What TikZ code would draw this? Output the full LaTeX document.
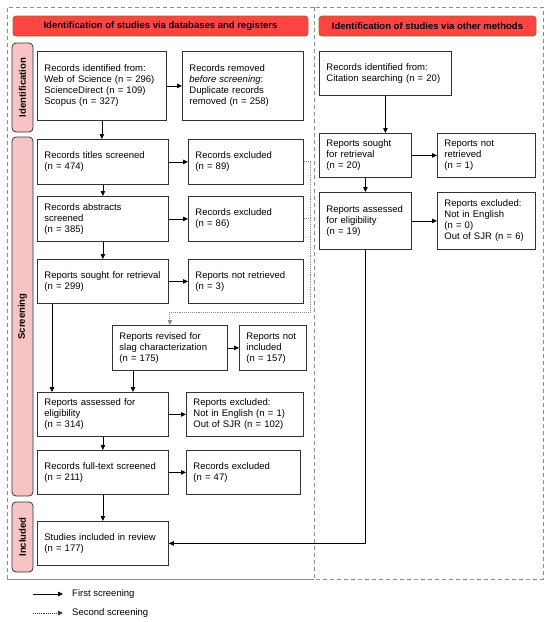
\documentclass[tikz,border=0pt]{standalone}
\usepackage{fontspec}
\setmainfont{Liberation Sans}
\usepackage{tikz}
\usetikzlibrary{arrows.meta,positioning}
\usepackage{xcolor}
\definecolor{hdred}{HTML}{FF4444}
\definecolor{hdedge}{HTML}{9A6B1C}
\definecolor{sidepink}{HTML}{F6C4C4}
\definecolor{edgec}{HTML}{333333}
\definecolor{framec}{HTML}{8C8C8C}

\newcommand{\boxfont}{\fontsize{9.5}{11}\selectfont\hyphenpenalty=10000\exhyphenpenalty=10000}

\tikzset{
  pbox/.style={draw=edgec, line width=0.8pt, fill=white, align=left, inner xsep=7pt, inner ysep=2pt,
    anchor=north west, font=\boxfont},
  header/.style={draw=hdedge, line width=0.8pt, fill=hdred, rounded corners=3pt, minimum height=20pt,
    inner sep=0pt, font=\fontsize{9.5}{11}\selectfont\bfseries},
  sidelab/.style={draw=edgec, line width=0.8pt, fill=sidepink, rounded corners=4pt, rotate=90,
    minimum height=21pt, inner sep=0pt, font=\fontsize{9.5}{11}\selectfont\bfseries},
  arr/.style={line width=0.8pt, -{Triangle[length=5pt,width=4.5pt]}},
  dotline/.style={framec, line width=0.9pt, densely dotted},
  dotarr/.style={dotline, -{Triangle[length=5pt,width=4.5pt]}},
  frame/.style={framec, line width=0.8pt, dash pattern=on 4pt off 3pt},
  legtext/.style={anchor=west, inner sep=0pt, font=\fontsize{9.5}{11}\selectfont}
}

\begin{document}
\begin{tikzpicture}[x=1pt,y=-1pt]
  \useasboundingbox (0,0) rectangle (550,622);
  % frames
  \draw[frame] (314,7) -- (7,7) -- (7,579);
  \draw[framec, line width=0.8pt] (7,579) -- (314,579);
  \draw[frame] (314,7) rectangle (543,579);
  % headers
  \node[header, minimum width=295pt] (hdL) at (160.5,26) {Identification of studies via databases and registers};
  \node[header, minimum width=217pt] (hdR) at (427.5,26) {Identification of studies via other methods};
  % phase labels
  \node[sidelab, minimum width=89pt] (sideId) at (22.5,87.5) {Identification};
  \node[sidelab, minimum width=359pt] (sideScr) at (22.5,316.5) {Screening};
  \node[sidelab, minimum width=70pt] (sideInc) at (22.5,537) {Included};
  % databases and registers
  \node[pbox, text width=115pt, minimum height=69pt] (ident) at (37,51)
    {Records identified from:\\Web of Science (n = 296)\\ScienceDirect (n = 109)\\Scopus (n = 327)};
  \node[pbox, text width=107pt, minimum height=69pt] (removed) at (182,51)
    {Records removed\\\textit{before screening}:\\Duplicate records\\removed (n = 258)};
  \node[pbox, text width=117pt, minimum height=45pt] (titles) at (37,139)
    {Records titles screened\\(n = 474)};
  \node[pbox, text width=101pt, minimum height=45pt] (exTitles) at (188,139)
    {Records excluded\\(n = 89)};
  \node[pbox, text width=117pt, minimum height=45pt] (abstracts) at (37,196)
    {Records abstracts\\screened\\(n = 385)};
  \node[pbox, text width=101pt, minimum height=45pt] (exAbstracts) at (188,196)
    {Records excluded\\(n = 86)};
  \node[pbox, text width=117pt, minimum height=44pt] (sought) at (37,259)
    {Reports sought for retrieval\\(n = 299)};
  \node[pbox, text width=101pt, minimum height=44pt] (notRetr) at (188,259)
    {Reports not retrieved\\(n = 3)};
  \node[pbox, text width=101pt, minimum height=45pt] (revised) at (112,325)
    {Reports revised for\\slag characterization\\(n = 175)};
  \node[pbox, text width=53pt, minimum height=45pt] (notIncl) at (239,325)
    {Reports not\\included\\(n = 157)};
  \node[pbox, text width=117pt, minimum height=44pt] (assessed) at (37,392)
    {Reports assessed for\\eligibility\\(n = 314)};
  \node[pbox, text width=103pt, minimum height=44pt] (exAssessed) at (186,392)
    {Reports excluded:\\Not in English (n = 1)\\Out of SJR (n = 102)};
  \node[pbox, text width=117pt, minimum height=44pt] (fulltext) at (37,450)
    {Records full-text screened\\(n = 211)};
  \node[pbox, text width=100pt, minimum height=44pt] (exFulltext) at (186,450)
    {Records excluded\\(n = 47)};
  \node[pbox, text width=117pt, minimum height=44pt] (included) at (37,521)
    {Studies included in review\\(n = 177)};
  % other methods
  \node[pbox, text width=118pt, minimum height=44pt] (citId) at (319,51)
    {Records identified from:\\Citation searching (n = 20)};
  \node[pbox, text width=78pt, minimum height=44pt] (oSought) at (319,133)
    {Reports sought\\for retrieval\\(n = 20)};
  \node[pbox, text width=84pt, minimum height=44pt] (oNotRetr) at (437,133)
    {Reports not\\retrieved\\(n = 1)};
  \node[pbox, text width=78pt, minimum height=57pt] (oAssessed) at (319,192)
    {Reports assessed\\for eligibility\\(n = 19)};
  \node[pbox, text width=84pt, minimum height=57pt] (oExcl) at (437,192)
    {Reports excluded:\\Not in English\\(n = 0)\\Out of SJR (n = 6)};
  % first screening
  \draw[arr] (ident.east) -- (removed.west |- ident.east);
  \draw[arr] (ident.south) -- (ident.south |- titles.north);
  \draw[arr] (titles.east) -- (exTitles.west |- titles.east);
  \draw[arr] (titles.south) -- (abstracts.north);
  \draw[arr] (abstracts.east) -- (exAbstracts.west |- abstracts.east);
  \draw[arr] (abstracts.south) -- (sought.north);
  \draw[arr] (sought.east) -- (notRetr.west |- sought.east);
  \draw[arr] ([xshift=15pt]sought.south west) -- ([xshift=15pt]assessed.north west);
  \draw[arr] ([xshift=21pt]revised.south west) -- ([xshift=21pt]revised.south west |- assessed.north);
  \draw[arr] (revised.east) -- (notIncl.west |- revised.east);
  \draw[arr] (assessed.east) -- (exAssessed.west |- assessed.east);
  \draw[arr] (assessed.south) -- (fulltext.north);
  \draw[arr] (fulltext.east) -- (exFulltext.west |- fulltext.east);
  \draw[arr] (fulltext.south) -- (included.north);
  \draw[arr] (citId.south) -- (citId.south |- oSought.north);
  \draw[arr] (oSought.east) -- (oNotRetr.west |- oSought.east);
  \draw[arr] (oSought.south) -- (oAssessed.north);
  \draw[arr] (oAssessed.east) -- (oExcl.west |- oAssessed.east);
  \draw[arr] (oAssessed.south) |- (included.east);
  % second screening
  \coordinate (dotTurn) at (310,312);
  \draw[dotline] (exAbstracts.east) -- (exAbstracts.east -| dotTurn);
  \draw[dotarr] (exTitles.east) -| (dotTurn) -| (revised.north);
  % legend
  \coordinate (lgA1) at (33,594);
  \coordinate (lgA2) at (63,594);
  \coordinate (lgB1) at (33,613);
  \coordinate (lgB2) at (63,613);
  \draw[arr] (lgA1) -- (lgA2);
  \draw[dotline, edgec, -{Triangle[length=5pt,width=4.5pt]}] (lgB1) -- (lgB2);
  \node[legtext] (lgFirst) at (72,594) {First screening};
  \node[legtext] (lgSecond) at (72,613) {Second screening};
\end{tikzpicture}
\end{document}
